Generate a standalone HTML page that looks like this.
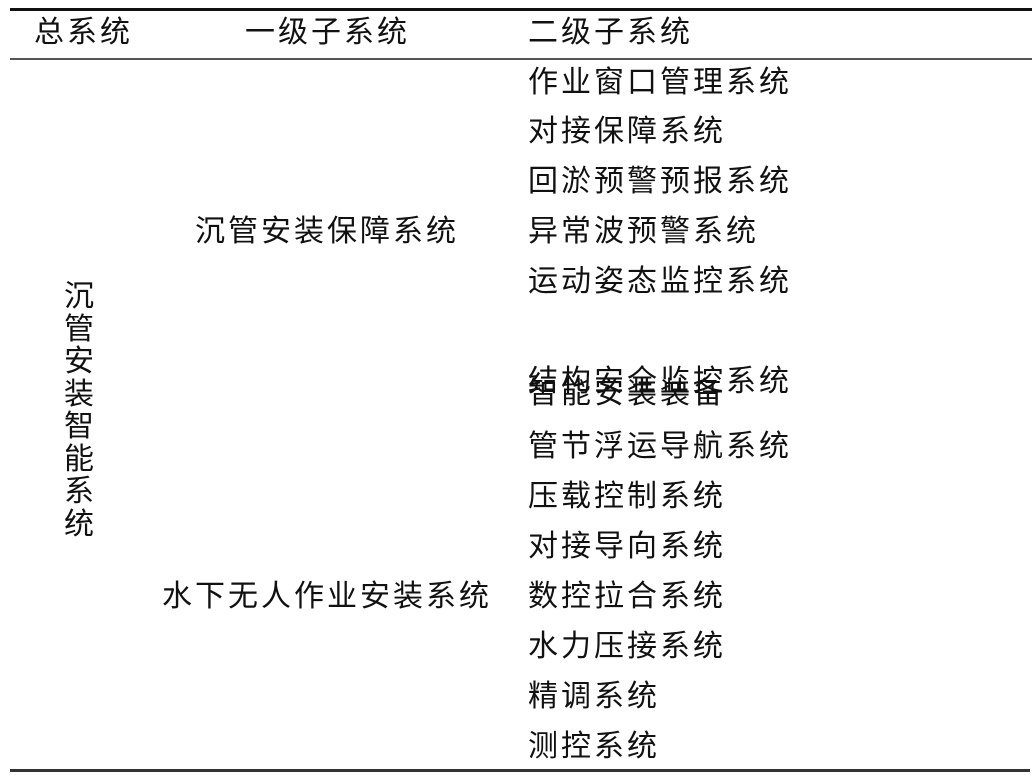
<!DOCTYPE html>
<html><head><meta charset="utf-8"><style>
body{margin:0;width:1032px;height:784px;background:#fff;position:relative;overflow:hidden;
font-family:"Liberation Sans","Noto Sans CJK SC","WenQuanYi Zen Hei",sans-serif;color:#111;}
.t{position:absolute;font-size:30px;letter-spacing:3px;line-height:34px;white-space:nowrap;}
.l{position:absolute;left:10px;width:1022px;}
</style></head><body>
<div class="l" style="top:8px;height:3px;background:#111"></div>
<div class="l" style="top:58px;height:2px;background:#555"></div>
<div class="l" style="top:769px;height:3px;background:#333;width:1020px"></div>
<div class="t" style="left:34px;top:16px">总系统</div>
<div class="t" style="left:245px;top:16px">一级子系统</div>
<div class="t" style="left:528px;top:16px">二级子系统</div>
<div class="t" style="left:64px;top:281px;width:31px;white-space:normal;line-height:32.5px;letter-spacing:0">沉管安装智能系统</div>
<div class="t" style="left:195px;top:215px">沉管安装保障系统</div>
<div class="t" style="left:162px;top:580px">水下无人作业安装系统</div>
<div class="t" style="left:528px;top:66px">作业窗口管理系统</div>
<div class="t" style="left:528px;top:115px">对接保障系统</div>
<div class="t" style="left:528px;top:165px">回淤预警预报系统</div>
<div class="t" style="left:528px;top:215px">异常波预警系统</div>
<div class="t" style="left:528px;top:265px">运动姿态监控系统</div>
<div class="t" style="left:528px;top:365px">结构安全监控系统</div>
<div class="t" style="left:528px;top:377px">智能安装装备</div>
<div class="t" style="left:528px;top:430px">管节浮运导航系统</div>
<div class="t" style="left:528px;top:480px">压载控制系统</div>
<div class="t" style="left:528px;top:530px">对接导向系统</div>
<div class="t" style="left:528px;top:580px">数控拉合系统</div>
<div class="t" style="left:528px;top:630px">水力压接系统</div>
<div class="t" style="left:528px;top:680px">精调系统</div>
<div class="t" style="left:528px;top:730px">测控系统</div>
</body></html>
